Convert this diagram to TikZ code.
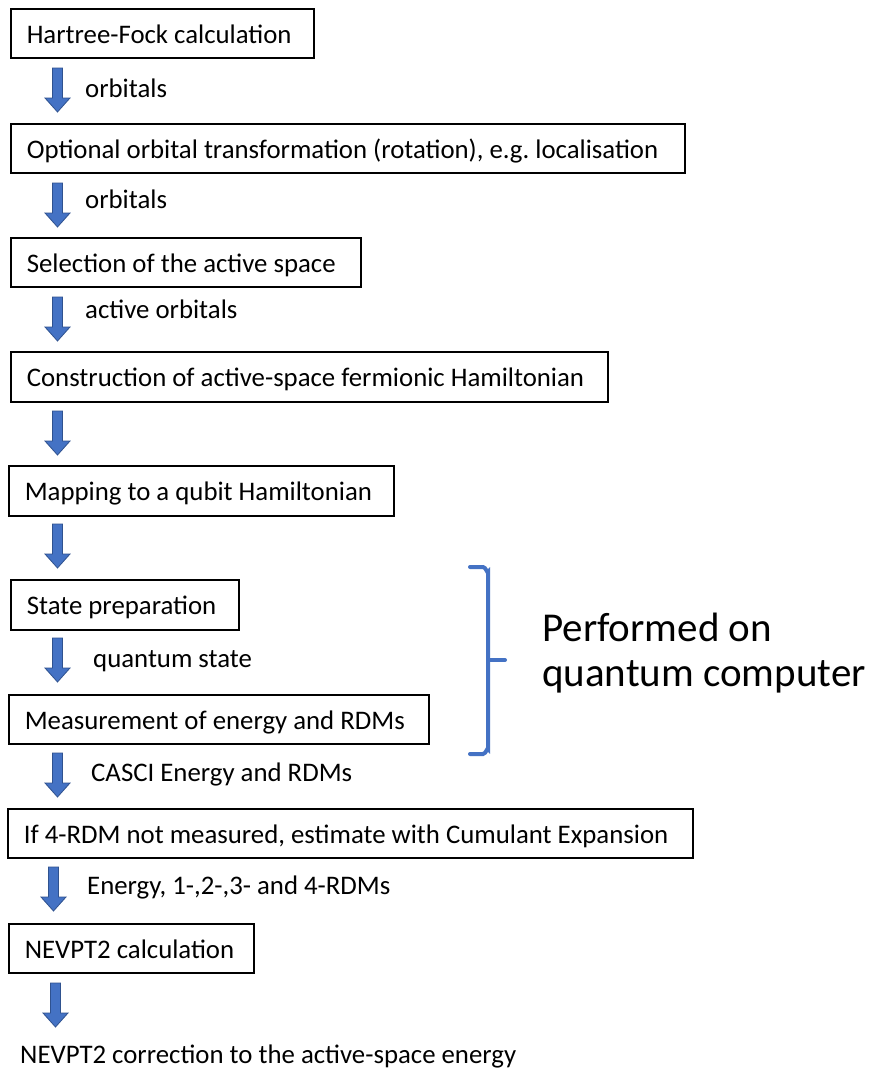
\documentclass[tikz,border=0pt]{standalone}
\usepackage{fontspec}
\setmainfont{Carlito}
\frenchspacing
\definecolor{ablue}{HTML}{4472C4}
\definecolor{adark}{HTML}{2F528F}
\newcommand{\boxtxt}[1]{\mbox{\spaceskip=0pt\xspaceskip=0pt #1}}
\tikzset{
  flowbox/.style={draw=black, line width=1.6bp, inner xsep=16bp, inner ysep=0pt, align=left,
    anchor=north west, text height=23bp, text depth=3bp, font=\fontsize{26.8bp}{31bp}\selectfont},
  lbl/.style={anchor=base west, inner sep=0pt, font=\fontsize{26.8bp}{31bp}\selectfont},
  barrow/.pic={\filldraw[fill=ablue, draw=adark, line width=0.8bp]
     (-5,0) -- (5,0) -- (5,30) -- (12.5,30) -- (0,44) -- (-12.5,30) -- (-5,30) -- cycle;},
  brace/.style={draw=ablue, line width=4bp, line cap=round}
}
\begin{document}
\begin{tikzpicture}[x=1bp,y=-1bp]
\useasboundingbox[fill=white] (0,0) rectangle (876,1071);
\node[flowbox, minimum width=303bp, minimum height=49bp, text width=271bp] (b1) at (10,8) {\boxtxt{Hartree-Fock calculation}};
\node[flowbox, minimum width=674bp, minimum height=49bp, text width=642bp] (b2) at (10,123) {\boxtxt{Optional orbital transformation (rotation), e.g. localisation}};
\node[flowbox, minimum width=350bp, minimum height=49bp, text width=318bp] (b3) at (10,237) {\boxtxt{Selection of the active space}};
\node[flowbox, minimum width=597bp, minimum height=50bp, text width=565bp] (b4) at (10,351) {\boxtxt{Construction of active-space fermionic Hamiltonian}};
\node[flowbox, minimum width=385bp, minimum height=50bp, text width=353bp] (b5) at (8,465) {\boxtxt{Mapping to a qubit Hamiltonian}};
\node[flowbox, minimum width=228bp, minimum height=50bp, text width=196bp] (b6) at (10,579) {\boxtxt{State preparation}};
\node[flowbox, minimum width=420bp, minimum height=49bp, text width=388bp] (b7) at (8,694) {\boxtxt{Measurement of energy and RDMs}};
\node[flowbox, minimum width=685bp, minimum height=49bp, text width=653bp] (b8) at (7,808) {\boxtxt{If 4-RDM not measured, estimate with Cumulant Expansion}};
\node[flowbox, minimum width=245bp, minimum height=49bp, text width=213bp] (b9) at (8,923) {\boxtxt{NEVPT2 calculation}};

\pic at (57.5,68) {barrow};
\pic at (57.5,183) {barrow};
\pic at (57.5,297) {barrow};
\pic at (57.5,411) {barrow};
\pic at (57.5,524) {barrow};
\pic at (57.5,638) {barrow};
\pic at (57.5,753) {barrow};
\pic at (53.5,867) {barrow};
\pic at (55.5,983) {barrow};

\node[lbl] (l1) at (85,97) {orbitals};
\node[lbl] (l2) at (85,208) {orbitals};
\node[lbl] (l3) at (85,318) {active orbitals};
\node[lbl] (l6) at (93,667) {quantum state};
\node[lbl] (l7) at (91,781) {CASCI Energy and RDMs};
\node[lbl] (l8) at (87,894) {Energy, 1-,2-,3- and 4-RDMs};
\node[lbl] (res) at (20,1063) {NEVPT2 correction to the active-space energy};

\coordinate (bt) at (470,567);
\coordinate (bb) at (470,754);
\coordinate (bm) at (505,660);
\draw[brace] (bt) -- (483,567) to[out=0,in=-90] (488,572) -- (488,749) to[out=90,in=0] (483,754) -- (bb);
\draw[brace] (488,660) -- (bm);
\node[anchor=base west, inner sep=0pt, align=left, font=\fontsize{41bp}{45bp}\selectfont] (qc) at (542,686) {\boxtxt{Performed on}\\\boxtxt{quantum computer}};
\end{tikzpicture}
\end{document}
